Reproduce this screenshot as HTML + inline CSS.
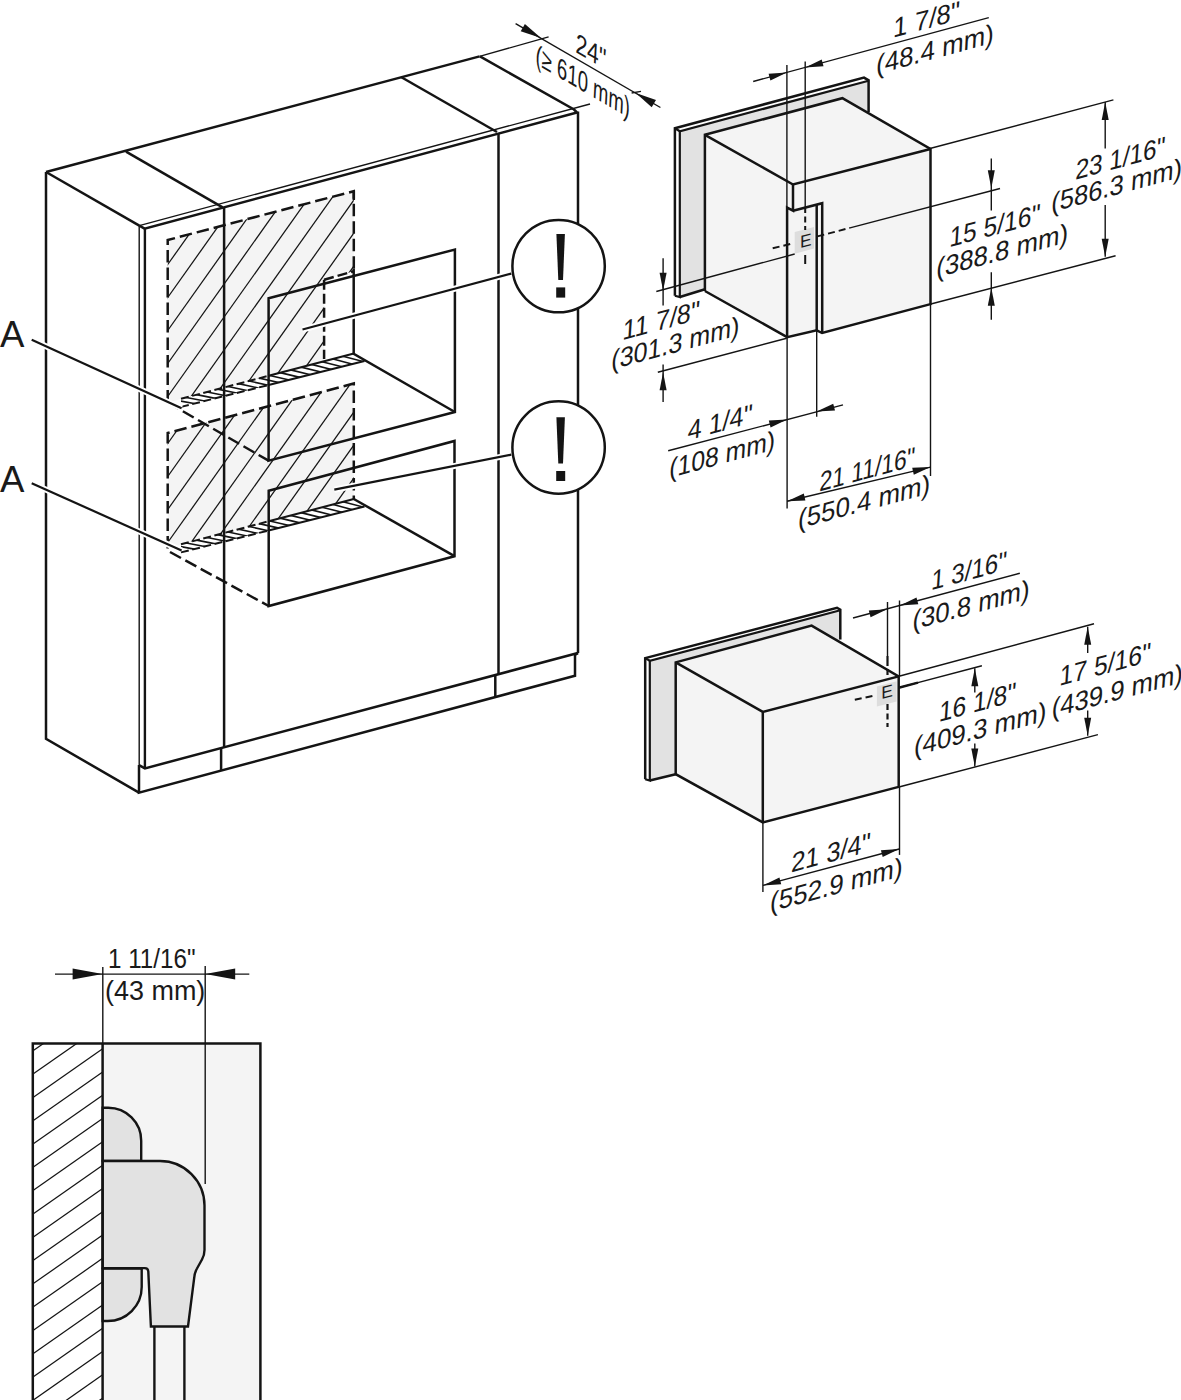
<!DOCTYPE html>
<html><head><meta charset="utf-8"><style>
html,body{margin:0;padding:0;background:#fff;width:1181px;height:1400px;overflow:hidden}
svg{display:block}
text{font-family:"Liberation Sans",sans-serif;fill:#1a1a1a}
</style></head><body>
<svg width="1181" height="1400" viewBox="0 0 1181 1400">
<clipPath id="hp1"><path d="M167.7,240.0 L353.8,191.2 L353.8,354.0 L167.7,402.5 Z"/></clipPath>
<path d="M167.7,240.0 L353.8,191.2 L353.8,354.0 L167.7,402.5 Z" fill="#f4f4f4" stroke="none" stroke-linejoin="miter"/>
<g clip-path="url(#hp1)"><line x1="150" y1="289.5" x2="380" y2="-34.8" stroke="#141414" stroke-width="1.25"/><line x1="150" y1="322.5" x2="380" y2="-1.8" stroke="#141414" stroke-width="1.25"/><line x1="150" y1="355.5" x2="380" y2="31.2" stroke="#141414" stroke-width="1.25"/><line x1="150" y1="388.5" x2="380" y2="64.2" stroke="#141414" stroke-width="1.25"/><line x1="150" y1="421.5" x2="380" y2="97.2" stroke="#141414" stroke-width="1.25"/><line x1="150" y1="454.5" x2="380" y2="130.2" stroke="#141414" stroke-width="1.25"/><line x1="150" y1="487.5" x2="380" y2="163.2" stroke="#141414" stroke-width="1.25"/><line x1="150" y1="520.5" x2="380" y2="196.2" stroke="#141414" stroke-width="1.25"/><line x1="150" y1="553.5" x2="380" y2="229.2" stroke="#141414" stroke-width="1.25"/><line x1="150" y1="586.5" x2="380" y2="262.2" stroke="#141414" stroke-width="1.25"/><line x1="150" y1="619.5" x2="380" y2="295.2" stroke="#141414" stroke-width="1.25"/><line x1="150" y1="652.5" x2="380" y2="328.2" stroke="#141414" stroke-width="1.25"/><line x1="150" y1="685.5" x2="380" y2="361.2" stroke="#141414" stroke-width="1.25"/></g>
<clipPath id="hp2"><path d="M167.7,433.0 L353.8,383.5 L353.8,499.0 L167.7,548.5 Z"/></clipPath>
<path d="M167.7,433.0 L353.8,383.5 L353.8,499.0 L167.7,548.5 Z" fill="#f4f4f4" stroke="none" stroke-linejoin="miter"/>
<g clip-path="url(#hp2)"><line x1="150" y1="468.5" x2="380" y2="144.2" stroke="#141414" stroke-width="1.25"/><line x1="150" y1="501.5" x2="380" y2="177.2" stroke="#141414" stroke-width="1.25"/><line x1="150" y1="534.5" x2="380" y2="210.2" stroke="#141414" stroke-width="1.25"/><line x1="150" y1="567.5" x2="380" y2="243.2" stroke="#141414" stroke-width="1.25"/><line x1="150" y1="600.5" x2="380" y2="276.2" stroke="#141414" stroke-width="1.25"/><line x1="150" y1="633.5" x2="380" y2="309.2" stroke="#141414" stroke-width="1.25"/><line x1="150" y1="666.5" x2="380" y2="342.2" stroke="#141414" stroke-width="1.25"/><line x1="150" y1="699.5" x2="380" y2="375.2" stroke="#141414" stroke-width="1.25"/><line x1="150" y1="732.5" x2="380" y2="408.2" stroke="#141414" stroke-width="1.25"/><line x1="150" y1="765.5" x2="380" y2="441.2" stroke="#141414" stroke-width="1.25"/></g>
<path d="M324.1,279.7 L353.7,271.3 L353.7,356.0 L324.1,363.0 Z" fill="#ffffff" stroke="none" stroke-linejoin="miter"/>
<clipPath id="st1"><path d="M181.0,398.8 L353.8,353.5 L364.5,361.0 L181.0,406.9 Z"/></clipPath>
<path d="M181.0,398.8 L353.8,353.5 L364.5,361.0 L181.0,406.9 Z" fill="#ffffff" stroke="none" stroke-linejoin="miter"/>
<g clip-path="url(#st1)"><line x1="172.0" y1="399.4" x2="198.0" y2="404.3" stroke="#141414" stroke-width="1.6"/><line x1="182.5" y1="396.7" x2="208.5" y2="401.7" stroke="#141414" stroke-width="1.6"/><line x1="193.0" y1="393.9" x2="219.0" y2="399.1" stroke="#141414" stroke-width="1.6"/><line x1="203.5" y1="391.2" x2="229.5" y2="396.5" stroke="#141414" stroke-width="1.6"/><line x1="214.0" y1="388.4" x2="240.0" y2="393.8" stroke="#141414" stroke-width="1.6"/><line x1="224.5" y1="385.7" x2="250.5" y2="391.2" stroke="#141414" stroke-width="1.6"/><line x1="235.0" y1="382.9" x2="261.0" y2="388.6" stroke="#141414" stroke-width="1.6"/><line x1="245.5" y1="380.2" x2="271.5" y2="386.0" stroke="#141414" stroke-width="1.6"/><line x1="256.0" y1="377.4" x2="282.0" y2="383.3" stroke="#141414" stroke-width="1.6"/><line x1="266.5" y1="374.7" x2="292.5" y2="380.7" stroke="#141414" stroke-width="1.6"/><line x1="277.0" y1="371.9" x2="303.0" y2="378.1" stroke="#141414" stroke-width="1.6"/><line x1="287.5" y1="369.1" x2="313.5" y2="375.5" stroke="#141414" stroke-width="1.6"/><line x1="298.0" y1="366.4" x2="324.0" y2="372.8" stroke="#141414" stroke-width="1.6"/><line x1="308.5" y1="363.6" x2="334.5" y2="370.2" stroke="#141414" stroke-width="1.6"/><line x1="319.0" y1="360.9" x2="345.0" y2="367.6" stroke="#141414" stroke-width="1.6"/><line x1="329.5" y1="358.1" x2="355.5" y2="365.0" stroke="#141414" stroke-width="1.6"/><line x1="340.0" y1="355.4" x2="366.0" y2="362.3" stroke="#141414" stroke-width="1.6"/><line x1="350.5" y1="352.6" x2="376.5" y2="359.7" stroke="#141414" stroke-width="1.6"/><line x1="361.0" y1="349.9" x2="387.0" y2="357.1" stroke="#141414" stroke-width="1.6"/></g>
<path d="M181,398.8 L268.6,375.8 M181,406.9 L268.6,385.0" fill="none" stroke="#141414" stroke-width="2.0" stroke-linejoin="miter" stroke-dasharray="8,3.5"/>
<path d="M268.6,375.8 L353.8,353.5 M268.6,385.0 L364.5,361" fill="none" stroke="#141414" stroke-width="2.0" stroke-linejoin="miter"/>
<clipPath id="st2"><path d="M181.0,544.3 L353.8,499.0 L364.5,506.5 L181.0,552.4 Z"/></clipPath>
<path d="M181.0,544.3 L353.8,499.0 L364.5,506.5 L181.0,552.4 Z" fill="#ffffff" stroke="none" stroke-linejoin="miter"/>
<g clip-path="url(#st2)"><line x1="172.0" y1="544.9" x2="198.0" y2="549.9" stroke="#141414" stroke-width="1.6"/><line x1="182.5" y1="542.2" x2="208.5" y2="547.2" stroke="#141414" stroke-width="1.6"/><line x1="193.0" y1="539.4" x2="219.0" y2="544.6" stroke="#141414" stroke-width="1.6"/><line x1="203.5" y1="536.7" x2="229.5" y2="542.0" stroke="#141414" stroke-width="1.6"/><line x1="214.0" y1="533.9" x2="240.0" y2="539.4" stroke="#141414" stroke-width="1.6"/><line x1="224.5" y1="531.2" x2="250.5" y2="536.7" stroke="#141414" stroke-width="1.6"/><line x1="235.0" y1="528.4" x2="261.0" y2="534.1" stroke="#141414" stroke-width="1.6"/><line x1="245.5" y1="525.7" x2="271.5" y2="531.5" stroke="#141414" stroke-width="1.6"/><line x1="256.0" y1="522.9" x2="282.0" y2="528.9" stroke="#141414" stroke-width="1.6"/><line x1="266.5" y1="520.2" x2="292.5" y2="526.2" stroke="#141414" stroke-width="1.6"/><line x1="277.0" y1="517.4" x2="303.0" y2="523.6" stroke="#141414" stroke-width="1.6"/><line x1="287.5" y1="514.6" x2="313.5" y2="521.0" stroke="#141414" stroke-width="1.6"/><line x1="298.0" y1="511.9" x2="324.0" y2="518.4" stroke="#141414" stroke-width="1.6"/><line x1="308.5" y1="509.1" x2="334.5" y2="515.7" stroke="#141414" stroke-width="1.6"/><line x1="319.0" y1="506.4" x2="345.0" y2="513.1" stroke="#141414" stroke-width="1.6"/><line x1="329.5" y1="503.6" x2="355.5" y2="510.5" stroke="#141414" stroke-width="1.6"/><line x1="340.0" y1="500.9" x2="366.0" y2="507.8" stroke="#141414" stroke-width="1.6"/><line x1="350.5" y1="498.1" x2="376.5" y2="505.2" stroke="#141414" stroke-width="1.6"/><line x1="361.0" y1="495.4" x2="387.0" y2="502.6" stroke="#141414" stroke-width="1.6"/></g>
<path d="M181,544.3 L268.6,521.3 M181,552.4 L268.6,530.5" fill="none" stroke="#141414" stroke-width="2.0" stroke-linejoin="miter" stroke-dasharray="8,3.5"/>
<path d="M268.6,521.3 L353.8,499.0 M268.6,530.5 L364.5,506.5" fill="none" stroke="#141414" stroke-width="2.0" stroke-linejoin="miter"/>
<path d="M167.7,402.5 V240 L353.8,191.2 V269" fill="none" stroke="#141414" stroke-width="2.5" stroke-linejoin="miter" stroke-dasharray="12.5,5"/>
<path d="M167.7,548.5 V433 L353.8,383.5 V499" fill="none" stroke="#141414" stroke-width="2.5" stroke-linejoin="miter" stroke-dasharray="12.5,5"/>
<line x1="353.8" y1="191.2" x2="353.8" y2="200.0" stroke="#141414" stroke-width="2.5" stroke-linecap="butt"/>
<line x1="167.7" y1="402.5" x2="268.6" y2="460.7" stroke="#141414" stroke-width="2.5" stroke-linecap="butt" stroke-dasharray="12.5,5"/>
<line x1="170.0" y1="552.0" x2="268.7" y2="606.0" stroke="#141414" stroke-width="2.5" stroke-linecap="butt" stroke-dasharray="12.5,5"/>
<path d="M268.6,460.7 V298.2 L454.9,249.5 V412 Z" fill="none" stroke="#141414" stroke-width="2.5" stroke-linejoin="miter"/>
<path d="M324.1,279.7 L353.7,271.3" fill="none" stroke="#141414" stroke-width="2.5" stroke-linejoin="miter" stroke-dasharray="10,4"/>
<path d="M324.1,279.7 V359" fill="none" stroke="#141414" stroke-width="2.5" stroke-linejoin="miter" stroke-dasharray="10,4"/>
<path d="M353.7,269 V353.8 L454.9,412" fill="none" stroke="#141414" stroke-width="2.5" stroke-linejoin="miter"/>
<path d="M268.7,606 V490.7 L454.5,441 V556.2 Z" fill="none" stroke="#141414" stroke-width="2.5" stroke-linejoin="miter"/>
<path d="M353.8,499 L454.5,556.2" fill="none" stroke="#141414" stroke-width="2.5" stroke-linejoin="miter"/>
<line x1="46.0" y1="172.0" x2="479.6" y2="56.4" stroke="#141414" stroke-width="2.5" stroke-linecap="butt"/>
<line x1="479.6" y1="56.4" x2="548.6" y2="36.9" stroke="#141414" stroke-width="1.4" stroke-linecap="butt"/>
<path d="M46,172 V738.8 L139,792.6" fill="none" stroke="#141414" stroke-width="2.5" stroke-linejoin="miter"/>
<line x1="46.0" y1="172.0" x2="139.3" y2="225.6" stroke="#141414" stroke-width="2.5" stroke-linecap="butt"/>
<line x1="126.0" y1="151.6" x2="222.6" y2="207.3" stroke="#141414" stroke-width="2.5" stroke-linecap="butt"/>
<line x1="401.0" y1="77.0" x2="497.0" y2="132.0" stroke="#141414" stroke-width="2.5" stroke-linecap="butt"/>
<path d="M480,56.4 L574,109.5 L577,112.5" fill="none" stroke="#141414" stroke-width="2.5" stroke-linejoin="miter"/>
<line x1="139.3" y1="225.6" x2="590.0" y2="104.0" stroke="#141414" stroke-width="1.4" stroke-linecap="butt"/>
<path d="M139.3,225.6 L144.6,228.6 L577,112.5" fill="none" stroke="#141414" stroke-width="2.5" stroke-linejoin="miter"/>
<line x1="578.0" y1="111.5" x2="578.0" y2="653.0" stroke="#141414" stroke-width="2.5" stroke-linecap="butt"/>
<line x1="498.5" y1="133.5" x2="498.5" y2="673.9" stroke="#141414" stroke-width="2.5" stroke-linecap="butt"/>
<line x1="224.1" y1="207.3" x2="224.1" y2="747.0" stroke="#141414" stroke-width="2.5" stroke-linecap="butt"/>
<line x1="144.9" y1="228.6" x2="144.9" y2="768.4" stroke="#141414" stroke-width="2.4" stroke-linecap="butt"/>
<line x1="139.2" y1="225.6" x2="139.2" y2="765.1" stroke="#141414" stroke-width="1.4" stroke-linecap="butt"/>
<path d="M139,765.1 L144.9,768.4 L577.9,653" fill="none" stroke="#141414" stroke-width="2.5" stroke-linejoin="miter"/>
<path d="M578,653 L575,655 V675.7 L139,792.6 V765.1" fill="none" stroke="#141414" stroke-width="2.5" stroke-linejoin="miter"/>
<line x1="221.1" y1="748.6" x2="221.1" y2="770.6" stroke="#141414" stroke-width="2.5" stroke-linecap="butt"/>
<line x1="495.3" y1="674.5" x2="495.3" y2="697.0" stroke="#141414" stroke-width="2.5" stroke-linecap="butt"/>
<line x1="31.7" y1="339.7" x2="181.6" y2="408.3" stroke="#ffffff" stroke-width="6" stroke-linecap="butt"/>
<line x1="31.7" y1="339.7" x2="181.6" y2="408.3" stroke="#141414" stroke-width="2.2" stroke-linecap="butt"/>
<line x1="31.7" y1="483.2" x2="181.6" y2="550.5" stroke="#ffffff" stroke-width="6" stroke-linecap="butt"/>
<line x1="31.7" y1="483.2" x2="181.6" y2="550.5" stroke="#141414" stroke-width="2.2" stroke-linecap="butt"/>
<line x1="302.5" y1="329.5" x2="511.3" y2="273.6" stroke="#ffffff" stroke-width="6" stroke-linecap="butt"/>
<line x1="302.5" y1="329.5" x2="511.3" y2="273.6" stroke="#141414" stroke-width="2.2" stroke-linecap="butt"/>
<line x1="334.3" y1="489.7" x2="511.3" y2="454.7" stroke="#ffffff" stroke-width="6" stroke-linecap="butt"/>
<line x1="334.3" y1="489.7" x2="511.3" y2="454.7" stroke="#141414" stroke-width="2.2" stroke-linecap="butt"/>
<circle cx="558.6" cy="266.1" r="46.2" fill="#fff" stroke="#141414" stroke-width="2.5"/>
<circle cx="558.6" cy="447.5" r="46.2" fill="#fff" stroke="#141414" stroke-width="2.5"/>
<path d="M556.4,233.9 H564.9 L563,280.1 H558.3 Z" fill="#141414"/>
<rect x="556.2" y="287.4" width="9" height="10.200000000000045" fill="#141414"/>
<path d="M556.4,417.3 H564.9 L563,463.6 H558.3 Z" fill="#141414"/>
<rect x="556.2" y="471" width="9" height="10" fill="#141414"/>
<text x="0" y="346.6" font-size="36.6">A</text>
<text x="0" y="492" font-size="36.6">A</text>
<line x1="515.6" y1="23.7" x2="660.4" y2="107.5" stroke="#141414" stroke-width="1.4" stroke-linecap="butt"/>
<line x1="631.6" y1="93.0" x2="641.0" y2="91.4" stroke="#141414" stroke-width="1.4" stroke-linecap="butt"/>
<path d="M541.0,38.0 L524.9,23.9 L520.7,31.3 Z" fill="#141414"/>
<path d="M635.8,93.0 L651.7,107.3 L656.0,100.0 Z" fill="#141414"/>
<path d="M679.8,131.2 L868.6,80.8 L868.6,112.0 L705.0,135.0 L705.0,289.3 L679.8,297.0 Z" fill="#e2e2e2" stroke="none" stroke-linejoin="miter"/>
<path d="M674.9,295.8 V128.2 L864,77.6 L868.6,80.3 V112" fill="none" stroke="#141414" stroke-width="2.5" stroke-linejoin="miter"/>
<path d="M674.9,128.2 L679.8,131.2 L868.6,80.8" fill="none" stroke="#141414" stroke-width="2.2" stroke-linejoin="miter"/>
<path d="M679.8,131.2 V297 L674.9,295.8" fill="none" stroke="#141414" stroke-width="2.2" stroke-linejoin="miter"/>
<path d="M679.8,297 L705,289.3" fill="none" stroke="#141414" stroke-width="2.5" stroke-linejoin="miter"/>
<path d="M704.9,134.8 L842.4,98.2 L930.5,149.0 L793.0,184.5 Z" fill="#f4f4f4" stroke="none" stroke-linejoin="miter"/>
<path d="M704.9,134.8 L793.0,184.5 L793.0,210.7 L787.1,207.6 L787.1,337.1 L704.9,291.0 Z" fill="#f4f4f4" stroke="none" stroke-linejoin="miter"/>
<path d="M787.1,207.6 L793.0,210.7 L822.2,203.2 L822.1,333.0 L816.7,330.3 L787.1,337.1 Z" fill="#f4f4f4" stroke="none" stroke-linejoin="miter"/>
<path d="M793.0,184.5 L930.5,149.0 L930.5,304.1 L822.1,333.0 L822.2,203.2 L793.0,210.7 Z" fill="#f4f4f4" stroke="none" stroke-linejoin="miter"/>
<path d="M704.9,291 V134.8 L842.4,98.2 L930.5,149 V304.1 L822.1,333 L816.7,330.3 L787.1,337.1 L704.9,291" fill="none" stroke="#141414" stroke-width="2.5" stroke-linejoin="miter"/>
<path d="M704.9,134.8 L793,184.5 L930.5,149" fill="none" stroke="#141414" stroke-width="2.5" stroke-linejoin="miter"/>
<path d="M793,184.5 V210.7 L787.1,207.6 V337.1" fill="none" stroke="#141414" stroke-width="2.5" stroke-linejoin="miter"/>
<path d="M793,210.7 L822.2,203.2 V333" fill="none" stroke="#141414" stroke-width="2.5" stroke-linejoin="miter"/>
<line x1="816.7" y1="204.5" x2="816.7" y2="330.3" stroke="#141414" stroke-width="2.5" stroke-linecap="butt"/>
<path d="M794.7,232.0 L814.0,226.9 L814.0,248.6 L794.7,253.7 Z" fill="#dddddd" stroke="none" stroke-linejoin="miter"/>
<text transform="translate(805.8,246.8) skewY(-15)" text-anchor="middle" font-size="17.5">E</text>
<line x1="786.9" y1="65.0" x2="786.9" y2="207.6" stroke="#141414" stroke-width="1.4" stroke-linecap="butt"/>
<line x1="787.1" y1="337.1" x2="787.1" y2="508.6" stroke="#141414" stroke-width="1.4" stroke-linecap="butt"/>
<line x1="805.2" y1="61.6" x2="805.2" y2="207.0" stroke="#141414" stroke-width="1.4" stroke-linecap="butt"/>
<line x1="805.2" y1="207.0" x2="805.2" y2="230.0" stroke="#141414" stroke-width="2.0" stroke-linecap="butt" stroke-dasharray="6,3.5"/>
<line x1="805.2" y1="255.0" x2="805.2" y2="264.0" stroke="#141414" stroke-width="2.0" stroke-linecap="butt"/>
<line x1="816.7" y1="330.3" x2="816.7" y2="416.7" stroke="#141414" stroke-width="1.4" stroke-linecap="butt"/>
<line x1="753.2" y1="81.5" x2="988.8" y2="17.6" stroke="#141414" stroke-width="1.4" stroke-linecap="butt"/>
<path d="M786.9,72.5 L768.6,73.8 L770.4,80.6 Z" fill="#141414"/>
<path d="M805.2,67.5 L823.5,66.2 L821.7,59.4 Z" fill="#141414"/>
<line x1="772.7" y1="248.3" x2="792.4" y2="243.5" stroke="#141414" stroke-width="2.0" stroke-linecap="butt" stroke-dasharray="7,4"/>
<line x1="817.4" y1="236.4" x2="850.0" y2="227.9" stroke="#141414" stroke-width="2.0" stroke-linecap="butt" stroke-dasharray="7,4"/>
<line x1="850.0" y1="227.9" x2="1000.0" y2="188.5" stroke="#141414" stroke-width="1.4" stroke-linecap="butt"/>
<line x1="656.3" y1="291.5" x2="794.7" y2="254.0" stroke="#141414" stroke-width="1.4" stroke-linecap="butt"/>
<line x1="657.8" y1="372.3" x2="786.7" y2="338.2" stroke="#141414" stroke-width="1.4" stroke-linecap="butt"/>
<line x1="663.1" y1="258.2" x2="663.1" y2="305.5" stroke="#141414" stroke-width="1.4" stroke-linecap="butt"/>
<path d="M663.1,290.8 L666.6,272.8 L659.6,272.8 Z" fill="#141414"/>
<line x1="663.1" y1="364.5" x2="663.1" y2="401.9" stroke="#141414" stroke-width="1.4" stroke-linecap="butt"/>
<path d="M663.1,372.3 L659.6,390.3 L666.6,390.3 Z" fill="#141414"/>
<line x1="668.2" y1="450.8" x2="843.0" y2="404.9" stroke="#141414" stroke-width="1.4" stroke-linecap="butt"/>
<path d="M787.1,419.5 L768.8,420.6 L770.6,427.4 Z" fill="#141414"/>
<path d="M816.7,411.6 L835.0,410.5 L833.2,403.7 Z" fill="#141414"/>
<line x1="930.5" y1="304.1" x2="930.5" y2="476.0" stroke="#141414" stroke-width="1.4" stroke-linecap="butt"/>
<line x1="787.1" y1="501.2" x2="930.5" y2="467.1" stroke="#141414" stroke-width="1.4" stroke-linecap="butt"/>
<path d="M787.1,501.2 L805.4,500.4 L803.8,493.6 Z" fill="#141414"/>
<path d="M930.5,467.1 L912.2,467.8 L913.8,474.7 Z" fill="#141414"/>
<line x1="929.9" y1="148.5" x2="1113.4" y2="99.9" stroke="#141414" stroke-width="1.4" stroke-linecap="butt"/>
<line x1="929.9" y1="304.3" x2="1115.6" y2="255.7" stroke="#141414" stroke-width="1.4" stroke-linecap="butt"/>
<line x1="1105.2" y1="102.1" x2="1105.2" y2="148.5" stroke="#141414" stroke-width="1.4" stroke-linecap="butt"/>
<path d="M1105.2,102.1 L1101.7,120.1 L1108.7,120.1 Z" fill="#141414"/>
<line x1="1105.2" y1="204.9" x2="1105.2" y2="256.8" stroke="#141414" stroke-width="1.4" stroke-linecap="butt"/>
<path d="M1105.2,256.8 L1108.7,238.8 L1101.7,238.8 Z" fill="#141414"/>
<line x1="991.3" y1="158.5" x2="991.3" y2="210.4" stroke="#141414" stroke-width="1.4" stroke-linecap="butt"/>
<path d="M991.3,188.3 L994.8,170.3 L987.8,170.3 Z" fill="#141414"/>
<line x1="991.3" y1="272.3" x2="991.3" y2="319.8" stroke="#141414" stroke-width="1.4" stroke-linecap="butt"/>
<path d="M991.3,287.7 L987.8,305.7 L994.8,305.7 Z" fill="#141414"/>
<path d="M649.8,660.5 L840.3,609.8 L840.3,639.5 L675.7,662.4 L675.7,774.2 L649.8,780.5 Z" fill="#e2e2e2" stroke="none" stroke-linejoin="miter"/>
<path d="M645.2,779.2 V658.1 L837,607.8 L840.3,609.8 V639.5" fill="none" stroke="#141414" stroke-width="2.5" stroke-linejoin="miter"/>
<path d="M645.2,658.1 L649.8,660.8 L840.3,610.3" fill="none" stroke="#141414" stroke-width="2.2" stroke-linejoin="miter"/>
<path d="M649.8,660.8 V780.5 L645.2,779.2" fill="none" stroke="#141414" stroke-width="2.2" stroke-linejoin="miter"/>
<path d="M649.8,780.5 L675.7,774.2" fill="none" stroke="#141414" stroke-width="2.5" stroke-linejoin="miter"/>
<path d="M675.7,662.4 L811.6,625.6 L898.7,676.4 L762.8,711.9 Z" fill="#f4f4f4" stroke="none" stroke-linejoin="miter"/>
<path d="M675.7,662.4 L762.8,711.9 L762.8,822.4 L675.7,774.2 Z" fill="#f4f4f4" stroke="none" stroke-linejoin="miter"/>
<path d="M762.8,711.9 L898.7,676.4 L898.7,786.9 L762.8,822.4 Z" fill="#f4f4f4" stroke="none" stroke-linejoin="miter"/>
<path d="M675.7,774.2 V662.4 L811.6,625.6 L898.7,676.4 V786.9 L762.8,822.4 Z" fill="none" stroke="#141414" stroke-width="2.5" stroke-linejoin="miter"/>
<path d="M675.7,662.4 L762.8,711.9 L898.7,676.4 M762.8,711.9 V822.4" fill="none" stroke="#141414" stroke-width="2.5" stroke-linejoin="miter"/>
<path d="M876.9,686.6 L896.6,681.3 L896.6,701.4 L876.9,706.6 Z" fill="#dddddd" stroke="none" stroke-linejoin="miter"/>
<text transform="translate(887.0,697.8) skewY(-15)" text-anchor="middle" font-size="17.5">E</text>
<line x1="854.8" y1="699.7" x2="875.1" y2="695.4" stroke="#141414" stroke-width="2.0" stroke-linecap="butt" stroke-dasharray="7,4"/>
<line x1="887.5" y1="704.0" x2="887.5" y2="727.0" stroke="#141414" stroke-width="2.2" stroke-linecap="butt" stroke-dasharray="6,3.5"/>
<line x1="887.5" y1="602.0" x2="887.5" y2="656.0" stroke="#141414" stroke-width="1.4" stroke-linecap="butt"/>
<line x1="887.5" y1="656.0" x2="887.5" y2="677.0" stroke="#141414" stroke-width="2.2" stroke-linecap="butt" stroke-dasharray="10,3,6,10"/>
<line x1="899.5" y1="600.5" x2="899.5" y2="676.4" stroke="#141414" stroke-width="1.4" stroke-linecap="butt"/>
<line x1="899.5" y1="786.9" x2="899.5" y2="854.9" stroke="#141414" stroke-width="1.4" stroke-linecap="butt"/>
<line x1="853.0" y1="618.0" x2="1019.8" y2="573.3" stroke="#141414" stroke-width="1.4" stroke-linecap="butt"/>
<path d="M887.1,609.2 L868.8,610.5 L870.6,617.3 Z" fill="#141414"/>
<path d="M900.0,605.5 L918.3,604.2 L916.5,597.5 Z" fill="#141414"/>
<line x1="899.9" y1="676.0" x2="1094.0" y2="623.7" stroke="#141414" stroke-width="1.4" stroke-linecap="butt"/>
<line x1="899.9" y1="687.4" x2="981.9" y2="665.8" stroke="#141414" stroke-width="1.4" stroke-linecap="butt"/>
<line x1="898.7" y1="687.7" x2="918.0" y2="682.6" stroke="#141414" stroke-width="2.5" stroke-linecap="butt"/>
<line x1="899.9" y1="786.8" x2="1097.9" y2="734.6" stroke="#141414" stroke-width="1.4" stroke-linecap="butt"/>
<line x1="974.8" y1="668.3" x2="974.8" y2="692.5" stroke="#141414" stroke-width="1.4" stroke-linecap="butt"/>
<path d="M974.8,668.3 L971.3,686.3 L978.3,686.3 Z" fill="#141414"/>
<line x1="974.8" y1="743.5" x2="974.8" y2="766.4" stroke="#141414" stroke-width="1.4" stroke-linecap="butt"/>
<path d="M974.8,766.4 L978.3,748.4 L971.3,748.4 Z" fill="#141414"/>
<line x1="1087.7" y1="626.8" x2="1087.7" y2="653.0" stroke="#141414" stroke-width="1.4" stroke-linecap="butt"/>
<path d="M1087.7,626.8 L1084.2,644.8 L1091.2,644.8 Z" fill="#141414"/>
<line x1="1087.7" y1="710.4" x2="1087.7" y2="735.8" stroke="#141414" stroke-width="1.4" stroke-linecap="butt"/>
<path d="M1087.7,735.8 L1091.2,717.8 L1084.2,717.8 Z" fill="#141414"/>
<line x1="762.9" y1="822.4" x2="762.9" y2="892.1" stroke="#141414" stroke-width="1.4" stroke-linecap="butt"/>
<line x1="762.9" y1="885.4" x2="899.2" y2="849.0" stroke="#141414" stroke-width="1.4" stroke-linecap="butt"/>
<path d="M762.9,885.4 L781.2,884.2 L779.4,877.4 Z" fill="#141414"/>
<path d="M899.2,849.0 L880.9,850.2 L882.7,857.0 Z" fill="#141414"/>
<rect x="102.6" y="1043.6" width="157.8" height="360" fill="#f4f4f4"/>
<clipPath id="dh"><rect x="33" y="1043.6" width="69.6" height="360"/></clipPath>
<g clip-path="url(#dh)"><line x1="20" y1="990.0" x2="110" y2="927.0" stroke="#141414" stroke-width="1.25"/><line x1="20" y1="1013.3" x2="110" y2="950.3" stroke="#141414" stroke-width="1.25"/><line x1="20" y1="1036.6" x2="110" y2="973.6" stroke="#141414" stroke-width="1.25"/><line x1="20" y1="1059.9" x2="110" y2="996.9" stroke="#141414" stroke-width="1.25"/><line x1="20" y1="1083.2" x2="110" y2="1020.2" stroke="#141414" stroke-width="1.25"/><line x1="20" y1="1106.5" x2="110" y2="1043.5" stroke="#141414" stroke-width="1.25"/><line x1="20" y1="1129.8" x2="110" y2="1066.8" stroke="#141414" stroke-width="1.25"/><line x1="20" y1="1153.1" x2="110" y2="1090.1" stroke="#141414" stroke-width="1.25"/><line x1="20" y1="1176.4" x2="110" y2="1113.4" stroke="#141414" stroke-width="1.25"/><line x1="20" y1="1199.7" x2="110" y2="1136.7" stroke="#141414" stroke-width="1.25"/><line x1="20" y1="1223.0" x2="110" y2="1160.0" stroke="#141414" stroke-width="1.25"/><line x1="20" y1="1246.3" x2="110" y2="1183.3" stroke="#141414" stroke-width="1.25"/><line x1="20" y1="1269.6" x2="110" y2="1206.6" stroke="#141414" stroke-width="1.25"/><line x1="20" y1="1292.9" x2="110" y2="1229.9" stroke="#141414" stroke-width="1.25"/><line x1="20" y1="1316.2" x2="110" y2="1253.2" stroke="#141414" stroke-width="1.25"/><line x1="20" y1="1339.5" x2="110" y2="1276.5" stroke="#141414" stroke-width="1.25"/><line x1="20" y1="1362.8" x2="110" y2="1299.8" stroke="#141414" stroke-width="1.25"/><line x1="20" y1="1386.1" x2="110" y2="1323.1" stroke="#141414" stroke-width="1.25"/><line x1="20" y1="1409.4" x2="110" y2="1346.4" stroke="#141414" stroke-width="1.25"/><line x1="20" y1="1432.7" x2="110" y2="1369.7" stroke="#141414" stroke-width="1.25"/><line x1="20" y1="1456.0" x2="110" y2="1393.0" stroke="#141414" stroke-width="1.25"/><line x1="20" y1="1479.3" x2="110" y2="1416.3" stroke="#141414" stroke-width="1.25"/></g>
<path d="M102.6,1107.7 H108.2 A33,33 0 0 1 141.2,1140.7 V1161 H102.6 Z" fill="#e2e2e2" stroke="#141414" stroke-width="2.4" stroke-linejoin="miter"/>
<path d="M102.6,1268.6 H141.7 V1287 A34,34 0 0 1 107.7,1321 H102.6 Z" fill="#e2e2e2" stroke="#141414" stroke-width="2.4" stroke-linejoin="miter"/>
<path d="M102.6,1161 H160 A44.5,44.5 0 0 1 204.5,1205.5 V1250 Q204.5,1255 202,1259.5 L197,1268.5 Q194.6,1272.5 194.2,1278 L188,1326.5 H150.9 L148.3,1271.5 Q148,1268.1 144.8,1268.1 H102.6 Z" fill="#e2e2e2" stroke="#141414" stroke-width="2.4" stroke-linejoin="miter"/>
<line x1="154.4" y1="1326.5" x2="154.4" y2="1400.0" stroke="#141414" stroke-width="2.4" stroke-linecap="butt"/>
<line x1="184.4" y1="1326.5" x2="184.4" y2="1400.0" stroke="#141414" stroke-width="2.4" stroke-linecap="butt"/>
<path d="M32.8,1400 V1043.6 H260.4 V1400" fill="none" stroke="#141414" stroke-width="2.5" stroke-linejoin="miter"/>
<line x1="102.6" y1="1043.6" x2="102.6" y2="1400.0" stroke="#141414" stroke-width="2.5" stroke-linecap="butt"/>
<line x1="102.8" y1="967.0" x2="102.8" y2="1043.6" stroke="#141414" stroke-width="1.4" stroke-linecap="butt"/>
<line x1="205.2" y1="966.0" x2="205.2" y2="1184.0" stroke="#141414" stroke-width="1.4" stroke-linecap="butt"/>
<line x1="55.0" y1="974.1" x2="249.3" y2="974.1" stroke="#141414" stroke-width="1.4" stroke-linecap="butt"/>
<path d="M102.6,974.1 L72.6,968.6 L72.6,979.6 Z" fill="#141414"/>
<path d="M205.2,974.1 L235.2,979.6 L235.2,968.6 Z" fill="#141414"/>
<text transform="translate(892.8,37.7) skewY(-15.11) skewX(-3) scale(0.958,1)" font-size="27">1 7/8&quot;</text>
<text transform="translate(875.8,74.5) skewY(-15.11) skewX(-3) scale(0.957,1)" font-size="27">(48.4 mm)</text>
<text transform="translate(1074.9,179.7) skewY(-15.11) skewX(-4) scale(0.902,1)" font-size="27">23 1/16&quot;</text>
<text transform="translate(1050.7,212.4) skewY(-15.11) skewX(-4) scale(0.949,1)" font-size="27">(586.3 mm)</text>
<text transform="translate(948.9,247.2) skewY(-15.11) skewX(-4) scale(0.911,1)" font-size="27">15 5/16&quot;</text>
<text transform="translate(935.8,277.8) skewY(-15.11) skewX(-4) scale(0.955,1)" font-size="27">(388.8 mm)</text>
<text transform="translate(622.1,340.2) skewY(-15.11) skewX(-4) scale(0.933,1)" font-size="27">11 7/8&quot;</text>
<text transform="translate(610.8,369.8) skewY(-15.11) skewX(-4) scale(0.929,1)" font-size="27">(301.3 mm)</text>
<text transform="translate(687.2,440.4) skewY(-15.11) skewX(-4) scale(0.931,1)" font-size="27">4 1/4&quot;</text>
<text transform="translate(668.7,478.1) skewY(-15.11) skewX(-4) scale(0.917,1)" font-size="27">(108 mm)</text>
<text transform="translate(819.0,491.6) skewY(-15.11) skewX(-4) scale(0.847,1)" font-size="27">21 11/16&quot;</text>
<text transform="translate(797.6,528.9) skewY(-15.11) skewX(-4) scale(0.957,1)" font-size="27">(550.4 mm)</text>
<text transform="translate(930.7,590.3) skewY(-15.11) skewX(-4) scale(0.893,1)" font-size="27">1 3/16&quot;</text>
<text transform="translate(911.9,630.1) skewY(-15.11) skewX(-4) scale(0.953,1)" font-size="27">(30.8 mm)</text>
<text transform="translate(938.4,722.0) skewY(-15.11) skewX(-4) scale(0.911,1)" font-size="27">16 1/8&quot;</text>
<text transform="translate(913.4,756.3) skewY(-15.11) skewX(-4) scale(0.960,1)" font-size="27">(409.3 mm)</text>
<text transform="translate(1059.1,686.1) skewY(-15.11) skewX(-4) scale(0.916,1)" font-size="27">17 5/16&quot;</text>
<text transform="translate(1051.3,717.8) skewY(-15.11) skewX(-4) scale(0.950,1)" font-size="27">(439.9 mm)</text>
<text transform="translate(790.8,872.6) skewY(-15.11) skewX(-4) scale(0.935,1)" font-size="27">21 3/4&quot;</text>
<text transform="translate(769.6,911.9) skewY(-15.11) skewX(-4) scale(0.960,1)" font-size="27">(552.9 mm)</text>
<text transform="translate(575.2,51.9) skewY(30.03) skewX(-3) scale(0.715,1)" font-size="29">24&quot;</text>
<text transform="translate(535.2,63.7) skewY(30.03) skewX(-3) scale(0.637,1)" font-size="29">(≥ 610 mm)</text>
<text transform="translate(108.0,967.5) skewY(0.00) skewX(0) scale(0.897,1)" font-size="27">1 11/16&quot;</text>
<text transform="translate(105.0,999.6) skewY(0.00) skewX(0) scale(0.999,1)" font-size="27">(43 mm)</text>
</svg></body></html>
